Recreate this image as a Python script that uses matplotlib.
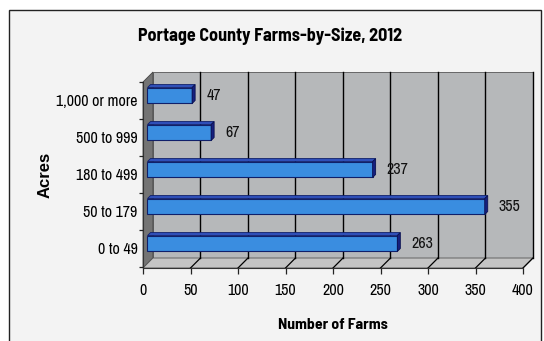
import numpy as np
import matplotlib
matplotlib.use('Agg')
import matplotlib.pyplot as plt
from matplotlib.patches import Polygon, Rectangle

categories = ['0 to 49', '50 to 179', '180 to 499', '500 to 999', '1,000 or more']
farms = [263, 355, 237, 67, 47]
x_ticks = [0, 50, 100, 150, 200, 250, 300, 350, 400]
title = 'Portage County Farms-by-Size, 2012'

# Arial Narrow look-alike; first installed family in the list wins
plt.rcParams['font.family'] = ['Liberation Sans Narrow', 'Arial Narrow', 'Archivo Narrow',
                               'Liberation Sans', 'DejaVu Sans']
bold_family = ['Barlow Semi Condensed', 'Asap Condensed', 'Liberation Sans', 'DejaVu Sans']

W, H = 544, 341
fig = plt.figure(figsize=(W / 100, H / 100), dpi=100, facecolor='white')

# chart frame (scanned Excel chart area)
fig.patches.append(Rectangle((9 / W, -0.05), 532 / W, (H - 10) / H + 0.05,
                             transform=fig.transFigure, facecolor='#f3f3f3',
                             edgecolor='#222222', lw=1.0, zorder=-5))

ax = fig.add_axes([143 / W, (H - 268) / H, 380 / W, 196 / H])
ax.set_facecolor('none')
ymin, ymax = -0.54, 4.757
ax.set_xlim(0, 400)
ax.set_ylim(ymin, ymax)

# depth vector of the 3d box (10 px right, 10 px up)
Dx, Dy = 10.5, 0.27

# back wall, side wall, floor
ax.add_patch(Polygon([(Dx, ymin + Dy), (400 + Dx, ymin + Dy), (400 + Dx, ymax), (Dx, ymax)],
                     closed=True, facecolor='#b6b8ba', edgecolor='#555555', lw=0.6,
                     clip_on=False, zorder=0.5))
ax.add_patch(Polygon([(0, ymin), (Dx, ymin + Dy), (Dx, ymax), (0, ymax - Dy)],
                     closed=True, facecolor='#747474', edgecolor='#444444', lw=0.6,
                     clip_on=False, zorder=0.6))
ax.add_patch(Polygon([(0, ymin), (400, ymin), (400 + Dx, ymin + Dy), (Dx, ymin + Dy)],
                     closed=True, facecolor='#c4c4c4', edgecolor='#555555', lw=0.6,
                     clip_on=False, zorder=0.6))
for t in x_ticks[1:]:
    ax.plot([t + Dx, t + Dx], [ymin + Dy, ymax], color='black', lw=1.0, zorder=0.7, clip_on=False)
    ax.plot([t, t + Dx], [ymin, ymin + Dy], color='black', lw=0.9, zorder=0.7, clip_on=False)

# bars
y = np.arange(len(categories))
f1, f2 = 0.45, 0.75
bars = ax.barh(y + f1 * Dy, farms, left=f1 * Dx, height=0.43,
               color='#3a8de0', edgecolor='#10206a', lw=0.8, zorder=3)
ddx, ddy = (f2 - f1) * Dx, (f2 - f1) * Dy
for b in bars:
    x0, x1 = b.get_x(), b.get_x() + b.get_width()
    yb, yt = b.get_y(), b.get_y() + b.get_height()
    ax.add_patch(Polygon([(x0, yt), (x1, yt), (x1 + ddx, yt + ddy), (x0 + ddx, yt + ddy)],
                         closed=True, facecolor='#2f4fb8', edgecolor='#10206a', lw=0.6, zorder=3))
    ax.add_patch(Polygon([(x1, yb), (x1, yt), (x1 + ddx, yt + ddy), (x1 + ddx, yb + ddy)],
                         closed=True, facecolor='#16207e', edgecolor='#0a1050', lw=0.6, zorder=3))
    ax.annotate(f'{int(b.get_width())}', (x1 + ddx, yb + b.get_height() / 2),
                xytext=(8, 0), textcoords='offset points', ha='left', va='center',
                fontsize=11.5, color='#111111', zorder=4)

# axes styling
for s in ['top', 'right']:
    ax.spines[s].set_visible(False)
ax.spines['left'].set_bounds(ymin, ymax - Dy)
ax.spines['left'].set_color('#333333')
ax.spines['bottom'].set_color('#333333')
ax.spines['left'].set_zorder(0.8)

ax.set_xticks(x_ticks)
ax.set_xticklabels([str(t) for t in x_ticks])
ax.tick_params(axis='x', direction='out', length=4, width=0.9, pad=7, labelsize=11.5, color='#222222')
ax.set_yticks(y)
ax.set_yticklabels(categories)
ax.set_yticks(np.arange(-0.5, len(categories), 1.0), minor=True)
ax.tick_params(axis='y', which='major', length=0, pad=4, labelsize=11.5)
ax.tick_params(axis='y', which='minor', direction='out', length=3, width=0.9, color='#222222')

ax.set_xlabel('Number of Farms', fontsize=11.3, fontweight='bold', labelpad=14, family=bold_family)
fig.text(45 / W, 1 - 175 / H, 'Acres', rotation=90, ha='center', va='center',
         fontsize=12, fontweight='bold', family=['Liberation Sans', 'DejaVu Sans'])
fig.text(270 / W, 1 - 36 / H, title, ha='center', va='center', fontsize=13,
         fontweight='bold', family=bold_family)

fig.savefig('out.png', dpi=100, facecolor=fig.get_facecolor())
